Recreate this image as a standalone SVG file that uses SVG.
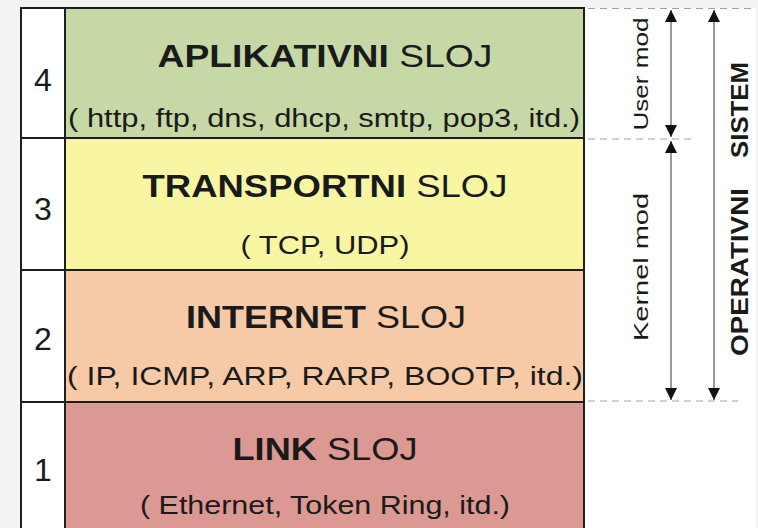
<svg xmlns="http://www.w3.org/2000/svg" width="758" height="528" viewBox="0 0 758 528">
<defs>
<style>
.t{font-family:"Liberation Sans",Arial,sans-serif;fill:#1a1a1a}
.ti{font-size:31px;text-anchor:middle}
.sub{font-size:25px;text-anchor:middle}
.num{font-size:32px;text-anchor:middle}
.cell{stroke:#1e1e1e;stroke-width:2}
.dash{stroke:#a0a0a0;stroke-width:1;stroke-dasharray:7 5;fill:none}
.arr{stroke:#555;stroke-width:1.2;fill:none}
.rot{font-size:21px;text-anchor:middle}
.os{font-size:24px;font-weight:bold;text-anchor:middle}
</style>
<marker id="ah" viewBox="0 0 12 12" refX="12" refY="6" markerWidth="12" markerHeight="12" markerUnits="userSpaceOnUse" orient="auto-start-reverse">
<path d="M0,0 L12,6 L0,12 Z" fill="#111"/>
</marker>
</defs>
<rect x="0" y="0" width="758" height="528" fill="#f3f3f3"/>
<rect x="21" y="8" width="735" height="520" fill="#ffffff"/>

<g id="layer4">
<rect class="cell" x="21" y="8" width="44" height="130" fill="#ffffff"/>
<rect class="cell" x="65" y="8" width="519" height="130" fill="#c6d8a6"/>
<text class="t num" x="43" y="91">4</text>
<text class="t ti" x="325" y="67" textLength="335" lengthAdjust="spacingAndGlyphs"><tspan font-weight="bold">APLIKATIVNI</tspan> SLOJ</text>
<text class="t sub" x="324" y="127" textLength="512" lengthAdjust="spacingAndGlyphs">( http, ftp, dns, dhcp, smtp, pop3, itd.)</text>
</g>
<g id="layer3">
<rect class="cell" x="21" y="138" width="44" height="132" fill="#ffffff"/>
<rect class="cell" x="65" y="138" width="519" height="132" fill="#f8f6a2"/>
<text class="t num" x="43" y="220">3</text>
<text class="t ti" x="325" y="197" textLength="365" lengthAdjust="spacingAndGlyphs"><tspan font-weight="bold">TRANSPORTNI</tspan> SLOJ</text>
<text class="t sub" x="325" y="254" textLength="169" lengthAdjust="spacingAndGlyphs">( TCP, UDP)</text>
</g>
<g id="layer2">
<rect class="cell" x="21" y="270" width="44" height="132" fill="#ffffff"/>
<rect class="cell" x="65" y="270" width="519" height="132" fill="#f6caa6"/>
<text class="t num" x="43" y="350">2</text>
<text class="t ti" x="326" y="328" textLength="280" lengthAdjust="spacingAndGlyphs"><tspan font-weight="bold">INTERNET</tspan> SLOJ</text>
<text class="t sub" x="325" y="385" textLength="516" lengthAdjust="spacingAndGlyphs">( IP, ICMP, ARP, RARP, BOOTP, itd.)</text>
</g>
<g id="layer1">
<rect class="cell" x="21" y="402" width="44" height="130" fill="#ffffff"/>
<rect class="cell" x="65" y="402" width="519" height="130" fill="#dc9892"/>
<text class="t num" x="43" y="481">1</text>
<text class="t ti" x="325" y="460" textLength="185" lengthAdjust="spacingAndGlyphs"><tspan font-weight="bold">LINK</tspan> SLOJ</text>
<text class="t sub" x="325" y="514" textLength="370" lengthAdjust="spacingAndGlyphs">( Ethernet, Token Ring, itd.)</text>
</g>

<g id="connectors">
<line class="dash" x1="588" y1="8.5" x2="752" y2="8.5"/>
<line class="dash" x1="588" y1="139" x2="696" y2="139"/>
<line class="dash" x1="588" y1="401" x2="738" y2="401"/>
<line class="arr" x1="671" y1="10" x2="671" y2="137" marker-start="url(#ah)" marker-end="url(#ah)"/>
<line class="arr" x1="671" y1="141" x2="671" y2="400" marker-start="url(#ah)" marker-end="url(#ah)"/>
<line class="arr" x1="714" y1="10" x2="714" y2="400" marker-start="url(#ah)" marker-end="url(#ah)"/>
</g>

<g id="user-mod">
<text class="t rot" transform="translate(648,74) rotate(-90)" textLength="113" lengthAdjust="spacingAndGlyphs">User mod</text>
</g>
<g id="kernel-mod">
<text class="t rot" transform="translate(648,267) rotate(-90)" textLength="148" lengthAdjust="spacingAndGlyphs">Kernel mod</text>
</g>
<g id="os">
<text class="t os" transform="translate(748,272) rotate(-90)" textLength="168" lengthAdjust="spacingAndGlyphs">OPERATIVNI</text>
<text class="t os" transform="translate(748,110) rotate(-90)" textLength="96" lengthAdjust="spacingAndGlyphs">SISTEM</text>
</g>
</svg>
